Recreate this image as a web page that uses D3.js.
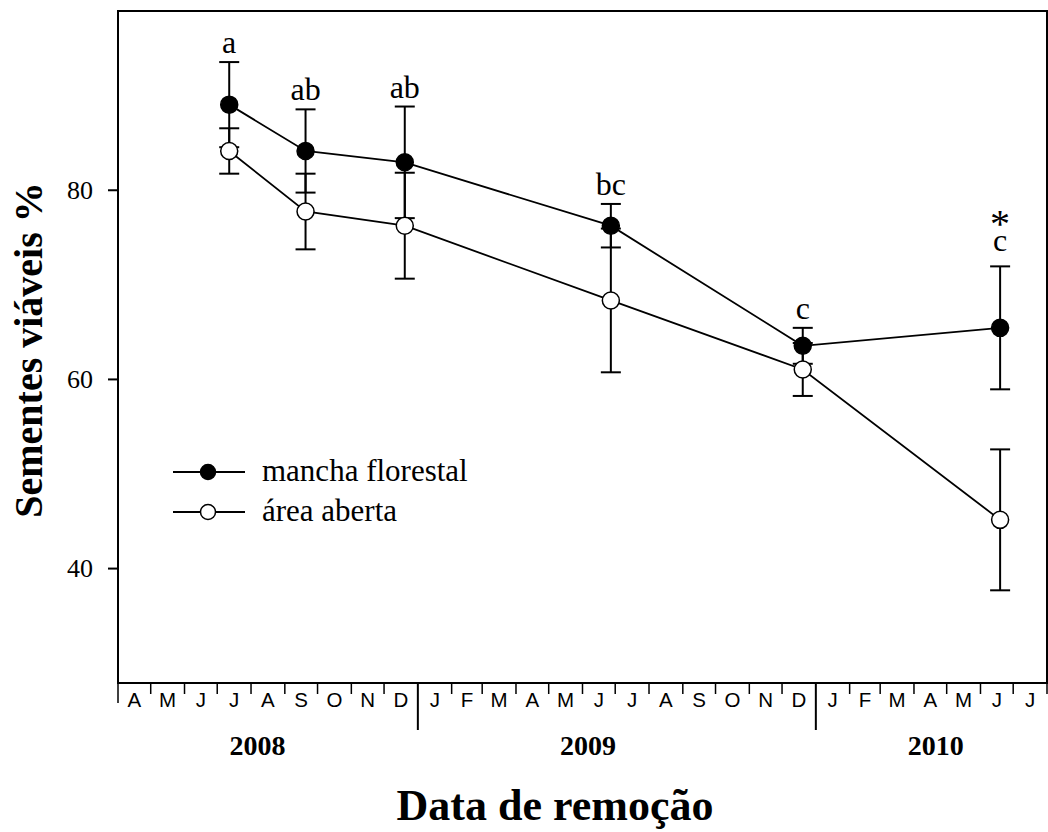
<!DOCTYPE html>
<html>
<head>
<meta charset="utf-8">
<script src="https://cdn.jsdelivr.net/npm/d3@7"></script>
<style>
  html, body { margin: 0; padding: 0; background: #fff; }
  svg { display: block; }
</style>
</head>
<body>
<svg id="chart" width="1048" height="832"></svg>
<script>
// Removal dates and viable-seed percentages (mean and standard error)
const sampleDates = ["2008-07-12", "2008-09-20", "2008-12-20", "2009-06-27", "2009-12-20", "2010-06-19"];
const forestMean = [89.0, 84.1, 82.9, 76.2, 63.5, 65.4];
const forestSE   = [4.5, 4.4, 5.9, 2.3, 1.9, 6.5];
const openMean   = [84.1, 77.7, 76.2, 68.3, 61.0, 45.1];
const openSE     = [2.4, 4.0, 5.6, 7.6, 2.8, 7.45];
const sigLetters = ["a", "ab", "ab", "bc", "c", "c"];
const sigStar    = ["", "", "", "", "", "*"];
const seriesNames = ["mancha florestal", "área aberta"];

// Axis annotation
const monthLabels = ["A","M","J","J","A","S","O","N","D",
                     "J","F","M","A","M","J","J","A","S","O","N","D",
                     "J","F","M","A","M","J","J"];
const yearLabels = ["2008", "2009", "2010"];
const yearLabelDates = ["2008-08-07", "2009-06-06", "2010-04-21"];
const yTicks = [40, 60, 80];

const serif = "'Liberation Serif', 'Times New Roman', serif";
const sans = "'Liberation Sans', Arial, sans-serif";

const svg = d3.select("#chart");
const parse = d3.utcParse("%Y-%m-%d");

const plotLeft = 118, plotRight = 1047, plotTop = 11, plotBottom = 683;

const x = d3.scaleUtc()
  .domain([Date.UTC(2008, 3, 1), Date.UTC(2010, 7, 1)])
  .range([plotLeft, plotRight]);
const y = d3.scaleLinear()
  .domain([27.85, 98.9])
  .range([plotBottom, plotTop]);

// Plot frame
svg.append("rect")
  .attr("x", plotLeft).attr("y", plotTop)
  .attr("width", plotRight - plotLeft).attr("height", plotBottom - plotTop)
  .attr("fill", "none").attr("stroke", "#000").attr("stroke-width", 2);

// Y axis
const yAxis = d3.axisLeft(y).tickValues(yTicks).tickSize(10).tickPadding(15);
const gy = svg.append("g").attr("transform", `translate(${plotLeft},0)`).call(yAxis);
gy.select(".domain").remove();
gy.selectAll(".tick line").attr("stroke-width", 2);
gy.selectAll(".tick text")
  .attr("font-family", serif).attr("font-size", 26).attr("fill", "#000");

// X axis: month boundaries, long ticks at year changes
const monthStarts = d3.utcMonth.range(Date.UTC(2008, 3, 1), Date.UTC(2010, 7, 2));
const gx = svg.append("g");
gx.selectAll("line.month")
  .data(monthStarts)
  .join("line")
  .attr("class", "month")
  .attr("x1", d => x(d)).attr("x2", d => x(d))
  .attr("y1", plotBottom)
  .attr("y2", (d, i) => d.getUTCMonth() === 0 ? 730 : (i === 0 ? 703 : 694))
  .attr("stroke", "#000")
  .attr("stroke-width", (d, i) => d.getUTCMonth() === 0 ? 2 : 1.5);

gx.selectAll("text.month")
  .data(monthLabels)
  .join("text")
  .attr("class", "month")
  .attr("x", (d, i) => (x(monthStarts[i]) + x(monthStarts[i + 1])) / 2)
  .attr("y", 707)
  .attr("text-anchor", "middle")
  .attr("font-family", sans).attr("font-size", 20.5)
  .text(d => d);

gx.selectAll("text.year")
  .data(yearLabels)
  .join("text")
  .attr("class", "year")
  .attr("x", (d, i) => x(parse(yearLabelDates[i])))
  .attr("y", 755)
  .attr("text-anchor", "middle")
  .attr("font-family", serif).attr("font-size", 28).attr("font-weight", "bold")
  .text(d => d);

// Axis titles
svg.append("text")
  .attr("x", 555).attr("y", 820)
  .attr("text-anchor", "middle")
  .attr("font-family", serif).attr("font-size", 44).attr("font-weight", "bold")
  .text("Data de remoção");

svg.append("text")
  .attr("transform", "translate(42,350) rotate(-90)")
  .attr("text-anchor", "middle")
  .attr("font-family", serif).attr("font-size", 40).attr("font-weight", "bold")
  .text("Sementes viáveis %");

// Series
const series = [
  { name: seriesNames[0], mean: forestMean, se: forestSE, fill: "#000" },
  { name: seriesNames[1], mean: openMean, se: openSE, fill: "#fff" }
];
const pts = s => sampleDates.map((d, i) => ({ date: parse(d), m: s.mean[i], e: s.se[i] }));

const plot = svg.append("g");
const capW = 10;

series.forEach(s => {
  const g = plot.append("g");
  const p = pts(s);
  g.selectAll("line.bar").data(p).join("line")
    .attr("x1", d => x(d.date)).attr("x2", d => x(d.date))
    .attr("y1", d => y(d.m - d.e)).attr("y2", d => y(d.m + d.e))
    .attr("stroke", "#000").attr("stroke-width", 2);
  [1, -1].forEach(sign => {
    g.append("g").selectAll("line").data(p).join("line")
      .attr("x1", d => x(d.date) - capW).attr("x2", d => x(d.date) + capW)
      .attr("y1", d => y(d.m + sign * d.e)).attr("y2", d => y(d.m + sign * d.e))
      .attr("stroke", "#000").attr("stroke-width", 2);
  });
});

const line = d3.line().x(d => x(d.date)).y(d => y(d.m));
series.forEach(s => {
  plot.append("path").datum(pts(s))
    .attr("d", line).attr("fill", "none")
    .attr("stroke", "#000").attr("stroke-width", 1.8);
});

series.forEach(s => {
  plot.append("g").selectAll("circle").data(pts(s)).join("circle")
    .attr("cx", d => x(d.date)).attr("cy", d => y(d.m))
    .attr("r", 8.5)
    .attr("fill", s.fill).attr("stroke", "#000").attr("stroke-width", 1.5);
});

// Significance letters above the forest-patch error bars;
// a starred sample gets the asterisk stacked above its letter
const fp = pts(series[0]);
const sig = plot.selectAll("text.sig").data(fp).join("text")
  .attr("class", "sig")
  .attr("text-anchor", "middle")
  .attr("font-family", serif).attr("font-size", 32);

sig.each(function (d, i) {
  const t = d3.select(this);
  const cx = x(d.date);
  const base = y(d.m + d.e) - (sigStar[i] ? 15 : 9);
  if (sigStar[i]) {
    t.append("tspan")
      .attr("x", cx).attr("y", base - 14)
      .attr("font-size", 40)
      .text(sigStar[i]);
  }
  t.append("tspan")
    .attr("x", cx).attr("y", base)
    .text(sigLetters[i]);
});

// Legend
const legend = svg.append("g");
series.forEach((s, i) => {
  const ly = 472 + i * 40;
  legend.append("line")
    .attr("x1", 173).attr("x2", 245).attr("y1", ly).attr("y2", ly)
    .attr("stroke", "#000").attr("stroke-width", 1.8);
  legend.append("circle")
    .attr("cx", 208).attr("cy", ly).attr("r", 7.5)
    .attr("fill", s.fill).attr("stroke", "#000").attr("stroke-width", 1.5);
  legend.append("text")
    .attr("x", 262).attr("y", ly + 9)
    .attr("font-family", serif).attr("font-size", 31)
    .text(s.name);
});
</script>
</body>
</html>
